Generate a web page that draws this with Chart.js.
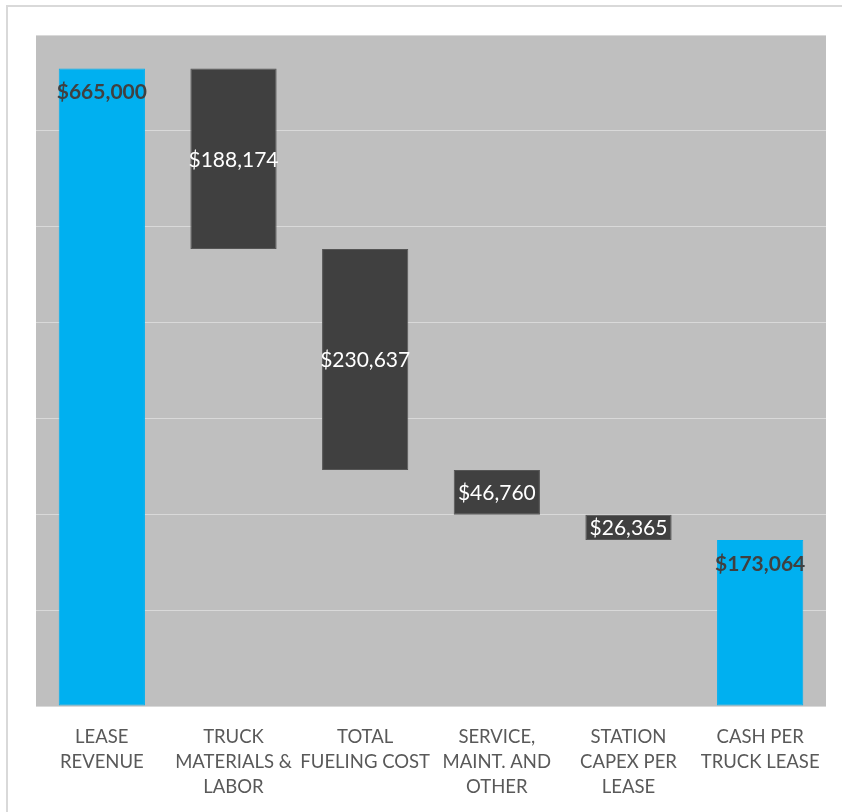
<!DOCTYPE html>
<html>
<head>
<meta charset="utf-8">
<script src="https://cdn.jsdelivr.net/npm/chart.js@4/dist/chart.umd.min.js"></script>
<style>
  html, body { margin: 0; padding: 0; background: #fff; overflow: hidden; }
  #wrap { position: relative; width: 842px; height: 812px; }
  #frame { position: absolute; left: 6px; top: 5px; width: 900px; height: 900px;
           border: 2px solid #d9d9d9; box-sizing: border-box; }
  canvas { position: absolute; left: 0; top: 0; }
</style>
</head>
<body>
<div id="wrap">
  <div id="frame"></div>
  <canvas id="chart" width="842" height="812"></canvas>
</div>
<script>
// categories (x axis, multi-line as in the picture)
var categories = [
    ['LEASE', 'REVENUE'],
    ['TRUCK', 'MATERIALS &', 'LABOR'],
    ['TOTAL', 'FUELING COST'],
    ['SERVICE,', 'MAINT. AND', 'OTHER'],
    ['STATION', 'CAPEX PER', 'LEASE'],
    ['CASH PER', 'TRUCK LEASE']
];
// step amounts (negative = cost)
var amounts = [665000, -188174, -230637, -46760, -26365, 173064];
// which bars are totals (start from zero)
var isTotal = [true, false, false, false, false, true];
// y axis range (ticks hidden, gridlines only)
var yMax = 700000;
var yStep = 100000;

// build the floating ranges for the waterfall
var ranges = [];
var running = 0;
for (var i = 0; i < amounts.length; i++) {
    if (isTotal[i]) {
        ranges.push([0, amounts[i]]);
        running = amounts[i];
    } else {
        ranges.push([running, running + amounts[i]]);
        running = running + amounts[i];
    }
}

function money(v) {
    return '$' + Math.abs(v).toLocaleString('en-US');
}

var plotBg = {
    id: 'plotBg',
    beforeDraw: function(chart) {
        var a = chart.chartArea, ctx = chart.ctx;
        ctx.save();
        ctx.fillStyle = '#bfbfbf';
        ctx.fillRect(a.left, a.top, a.right - a.left, a.bottom - a.top);
        ctx.restore();
    }
};

var valueLabels = {
    id: 'valueLabels',
    afterDatasetsDraw: function(chart) {
        var ctx = chart.ctx;
        var meta = chart.getDatasetMeta(0);
        ctx.save();
        ctx.textAlign = 'center';
        ctx.textBaseline = 'middle';
        meta.data.forEach(function(bar, i) {
            var top = Math.min(bar.y, bar.base);
            var bottom = Math.max(bar.y, bar.base);
            if (isTotal[i]) {
                ctx.font = 'bold 21px Lato';
                ctx.fillStyle = '#404040';
                ctx.fillText(money(amounts[i]), bar.x, top + 24);
            } else {
                ctx.font = '21px Lato';
                ctx.fillStyle = '#ffffff';
                ctx.fillText(money(amounts[i]), bar.x, (top + bottom) / 2 + 1);
            }
        });
        ctx.restore();
    }
};

new Chart(document.getElementById('chart'), {
    type: 'bar',
    data: {
        labels: categories,
        datasets: [{
            data: ranges,
            backgroundColor: isTotal.map(function(t) { return t ? '#00b0f0' : '#404040'; }),
            borderColor: isTotal.map(function(t) { return t ? '#00b0f0' : '#555555'; }),
            borderWidth: 1,
            borderSkipped: false,
            barPercentage: 0.655,
            categoryPercentage: 1
        }]
    },
    options: {
        responsive: false,
        animation: false,
        layout: { padding: { left: 36, right: 16, top: 35, bottom: 0 } },
        plugins: { legend: { display: false }, tooltip: { enabled: false } },
        scales: {
            x: {
                grid: { display: false },
                border: { display: false },
                ticks: {
                    color: '#595959',
                    font: { family: 'Lato', size: 18.5, lineHeight: 1.37 },
                    padding: 10,
                    maxRotation: 0,
                    autoSkip: false
                },
                afterFit: function(s) { s.height = 106; }
            },
            y: {
                min: 0,
                max: yMax,
                ticks: { display: false, stepSize: yStep },
                grid: { color: '#d9d9d9', lineWidth: 1, drawTicks: false },
                border: { display: false },
                afterFit: function(s) { s.width = 0; }
            }
        }
    },
    plugins: [plotBg, valueLabels]
});
</script>
</body>
</html>
